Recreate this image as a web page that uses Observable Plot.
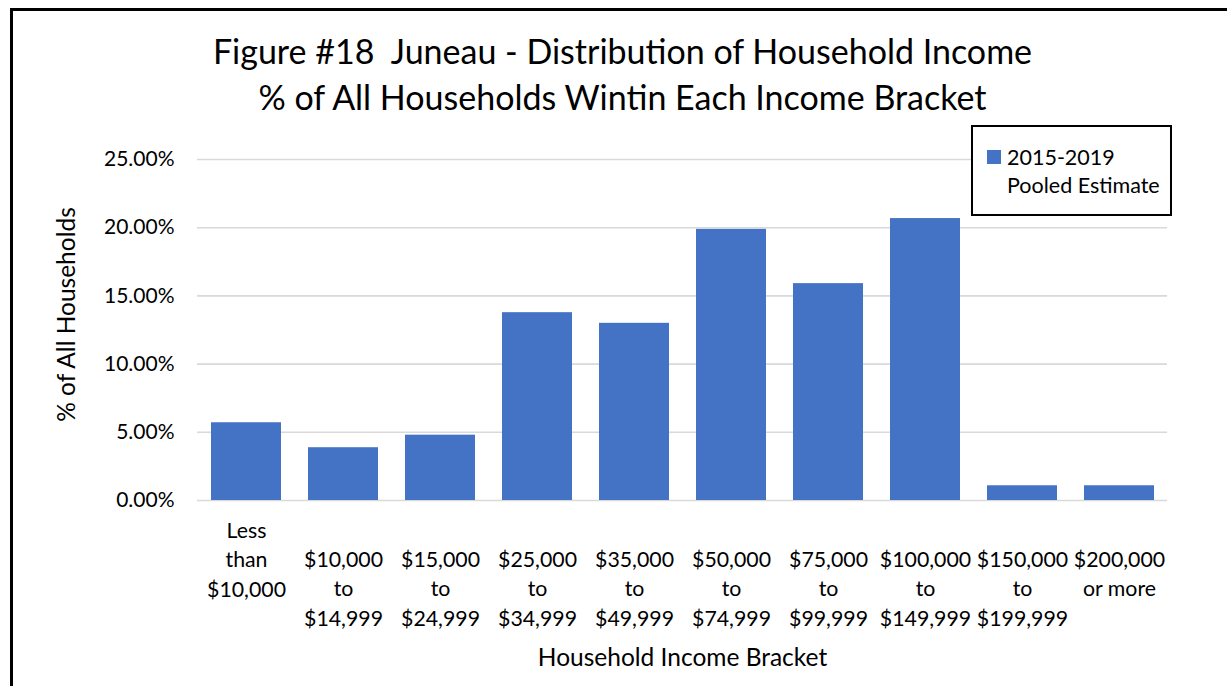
<!DOCTYPE html>
<html>
<head>
<meta charset="utf-8">
<script src="https://cdn.jsdelivr.net/npm/d3@7"></script>
<script src="https://cdn.jsdelivr.net/npm/@observablehq/plot@0.6"></script>
<style>
  html, body { margin: 0; padding: 0; width: 1227px; height: 686px; overflow: hidden; background: #fff; }
  body { position: relative; font-family: Lato, "Open Sans", sans-serif; color: #000; }
  #frame { position: absolute; left: 10px; top: 8px; width: 1300px; height: 800px; border: 3px solid #000; box-sizing: border-box; }
  #chart { position: absolute; left: 0; top: 0; }
  .title { position: absolute; left: 0; width: 1245px; text-align: center; font-size: 34px; white-space: nowrap; line-height: 1; }
  #legend { position: absolute; left: 971px; top: 125px; width: 201px; height: 91px; border: 2px solid #000; box-sizing: border-box; background: #fff; font-size: 21.5px; }
  #legend .sw { position: absolute; left: 14px; top: 23px; width: 14px; height: 14px; background: #4472C4; }
  #legend .t { position: absolute; left: 34px; top: 16px; line-height: 28px; white-space: nowrap; }
</style>
</head>
<body>
<div id="frame"></div>
<div id="chart"></div>
<div class="title" id="t1" style="top:34px">Figure #18&nbsp; Juneau - Distribution of Household Income</div>
<div class="title" id="t2" style="top:80px">% of All Households Wintin Each Income Bracket</div>
<div id="legend"><div class="sw"></div><div class="t" id="legendText"></div></div>
<script>
// Data
const brackets = [
  "Less than $10,000", "$10,000 to $14,999", "$15,000 to $24,999", "$25,000 to $34,999",
  "$35,000 to $49,999", "$50,000 to $74,999", "$75,000 to $99,999", "$100,000 to $149,999",
  "$150,000 to $199,999", "$200,000 or more"
];
const bracketLabels = [
  "Less\nthan\n$10,000", "$10,000\nto\n$14,999", "$15,000\nto\n$24,999", "$25,000\nto\n$34,999",
  "$35,000\nto\n$49,999", "$50,000\nto\n$74,999", "$75,000\nto\n$99,999", "$100,000\nto\n$149,999",
  "$150,000\nto\n$199,999", "$200,000\nor more"
];
const pctHouseholds = [5.70, 3.87, 4.79, 13.77, 12.99, 19.88, 15.90, 20.67, 1.08, 1.08];
const yTicks = [0, 5, 10, 15, 20, 25];
const seriesName = "2015-2019\nPooled Estimate";
const yTitle = "% of All Households";
const xTitle = "Household Income Bracket";

const rows = brackets.map((b, i) => ({bracket: b, label: bracketLabels[i], value: pctHouseholds[i], first: i === 0}));

document.getElementById("legendText").innerHTML = seriesName.split("\n").join("<br>");

const font = "Lato, 'Open Sans', sans-serif";
const chart = Plot.plot({
  width: 1227,
  height: 686,
  marginLeft: 197,
  marginRight: 60,
  marginTop: 159,
  marginBottom: 186,
  style: {fontFamily: font, fontSize: "21px", background: "transparent", color: "#000"},
  x: {type: "band", domain: brackets, paddingInner: 0.28, paddingOuter: 0.14, axis: null},
  y: {domain: [0, 25], axis: null},
  marks: [
    Plot.ruleY(yTicks, {stroke: "#d9d9d9", strokeWidth: 1.6}),
    Plot.barY(rows, {x: "bracket", y: "value", fill: "#4472C4"}),
    Plot.text(yTicks, {x: null, y: d => d, frameAnchor: "left", dx: -23, textAnchor: "end", text: d => d.toFixed(2) + "%", fontSize: 21, fill: "#000"}),
    Plot.text(rows.filter(d => !d.first), {x: "bracket", text: "label", frameAnchor: "bottom", lineAnchor: "top", dy: 46, lineHeight: 1.37, fontSize: 21.3, fill: "#000"}),
    Plot.text(rows.filter(d => d.first), {x: "bracket", text: "label", frameAnchor: "bottom", lineAnchor: "top", dy: 17, lineHeight: 1.37, fontSize: 21.3, fill: "#000"}),
    Plot.text([yTitle], {text: d => d, frameAnchor: "left", textAnchor: "middle", dx: -130, dy: -15.5, rotate: -90, fontSize: 24.5, fill: "#000"}),
    Plot.text([xTitle], {text: d => d, frameAnchor: "bottom", textAnchor: "middle", dy: 158, lineAnchor: "middle", fontSize: 24.5, fill: "#000"})
  ]
});
document.getElementById("chart").appendChild(chart);
</script>
</body>
</html>
